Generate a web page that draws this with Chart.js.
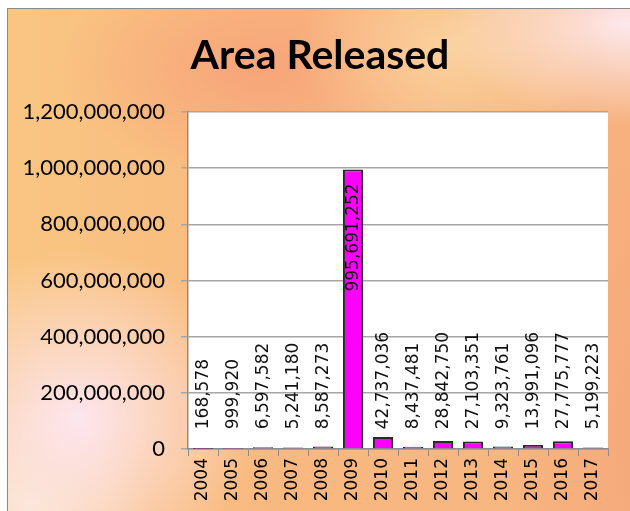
<!DOCTYPE html>
<html>
<head>
<meta charset="utf-8">
<script src="https://cdn.jsdelivr.net/npm/chart.js@4"></script>
<style>
  html, body { margin: 0; padding: 0; background: #fff; overflow: hidden; }
  #frame {
    position: absolute; left: 7px; top: 8px; width: 640px; height: 520px;
    border-left: 1px solid #8a8a8a; border-top: 1px solid #8a8a8a;
    background:
      radial-gradient(ellipse 180px 170px at 70px 410px, rgba(253,230,240,1) 0%, rgba(253,230,240,0) 100%),
      radial-gradient(ellipse 120px 110px at 20px 500px, rgba(251,230,205,1) 0%, rgba(251,230,205,0) 100%),
      radial-gradient(ellipse 190px 100px at 620px 15px, rgba(253,232,236,1) 0%, rgba(253,232,236,0) 100%),
      radial-gradient(ellipse 150px 110px at 440px 40px, rgba(250,212,160,0.9) 0%, rgba(250,212,160,0) 100%),
      radial-gradient(ellipse 200px 110px at 250px 60px, rgba(247,165,122,1) 0%, rgba(247,165,122,0) 100%),
      radial-gradient(ellipse 150px 420px at 640px 420px, rgba(245,168,122,1) 0%, rgba(245,168,122,0) 100%),
      linear-gradient(to right, #f9c682 0%, #f8b880 45%, #f7b580 100%);
  }
  #wrap { position: absolute; left: 0; top: 0; width: 630px; height: 511px; }
</style>
</head>
<body>
<div id="frame"></div>
<div id="wrap"><canvas id="chartBar"></canvas></div>
<script>
const chartTitle = 'Area Released';
const years = ['2004', '2005', '2006', '2007', '2008', '2009', '2010', '2011', '2012', '2013', '2014', '2015', '2016', '2017'];
const areaReleased = [168578, 999920, 6597582, 5241180, 8587273, 995691252, 42737036, 8437481, 28842750, 27103351, 9323761, 13991096, 27775777, 5199223];
const yTicks = [0, 200000000, 400000000, 600000000, 800000000, 1000000000, 1200000000];

const fmt = (v) => v.toLocaleString('en-US');

// white plot area + title centred on the whole frame
const plotBg = {
    id: 'plotBg',
    beforeDraw(chart) {
        const a = chart.chartArea, c = chart.ctx;
        c.save();
        c.fillStyle = '#ffffff';
        c.fillRect(a.left, a.top, a.right - a.left, a.bottom - a.top);
        c.fillStyle = '#000';
        c.font = 'bold 41px Lato';
        c.textAlign = 'center';
        c.textBaseline = 'alphabetic';
        c.fillText(chartTitle, 320, 69);
        c.restore();
    }
};

// rotated value labels, inside end for tall bars, above the bar otherwise
const valueLabels = {
    id: 'valueLabels',
    afterDatasetsDraw(chart) {
        const c = chart.ctx;
        const meta = chart.getDatasetMeta(0);
        c.save();
        c.font = '17px "DejaVu Sans"';
        c.fillStyle = '#111';
        c.textBaseline = 'middle';
        meta.data.forEach((bar, i) => {
            const txt = fmt(areaReleased[i]);
            const w = c.measureText(txt).width;
            c.save();
            if (bar.base - bar.y > w + 30) {
                c.translate(bar.x, bar.y + 14);
                c.rotate(-Math.PI / 2);
                c.textAlign = 'right';
            } else {
                c.translate(bar.x, Math.min(bar.y - 6, bar.base - 19));
                c.rotate(-Math.PI / 2);
                c.textAlign = 'left';
            }
            c.fillText(txt, 0, 1);
            c.restore();
        });
        c.restore();
    }
};

new Chart(document.getElementById('chartBar').getContext('2d'), {
    type: 'bar',
    data: {
        labels: years,
        datasets: [{
            label: chartTitle,
            data: areaReleased,
            backgroundColor: '#ff00ff',
            borderColor: '#2a2a2a',
            borderWidth: 2,
            barPercentage: 0.67,
            categoryPercentage: 1.0
        }]
    },
    options: {
        responsive: true,
        maintainAspectRatio: false,
        animation: false,
        layout: { padding: { left: 0, right: 22, top: 112, bottom: 0 } },
        plugins: {
            legend: { display: false },
            tooltip: { enabled: false },
            title: { display: false }
        },
        scales: {
            x: {
                grid: { drawOnChartArea: false, drawTicks: true, tickLength: 7, color: '#8c8c8c', offset: true },
                border: { color: '#8c8c8c', width: 1.5 },
                ticks: {
                    color: '#000', font: { family: 'DejaVu Sans', size: 17 },
                    maxRotation: 90, minRotation: 90, padding: 2, autoSkip: false
                },
                afterFit(scale) { scale.height = 62; }
            },
            y: {
                min: 0, max: 1200000000,
                afterBuildTicks(scale) { scale.ticks = yTicks.map(v => ({ value: v })); },
                grid: { color: '#a6a6a6', lineWidth: 1.5, tickLength: 7 },
                border: { color: '#8c8c8c', width: 1.5 },
                ticks: {
                    color: '#000', font: { family: 'Lato', size: 22 }, padding: 16,
                    callback: (v) => fmt(v)
                },
                afterFit(scale) { scale.width = 188; }
            }
        }
    },
    plugins: [plotBg, valueLabels]
});
</script>
</body>
</html>
